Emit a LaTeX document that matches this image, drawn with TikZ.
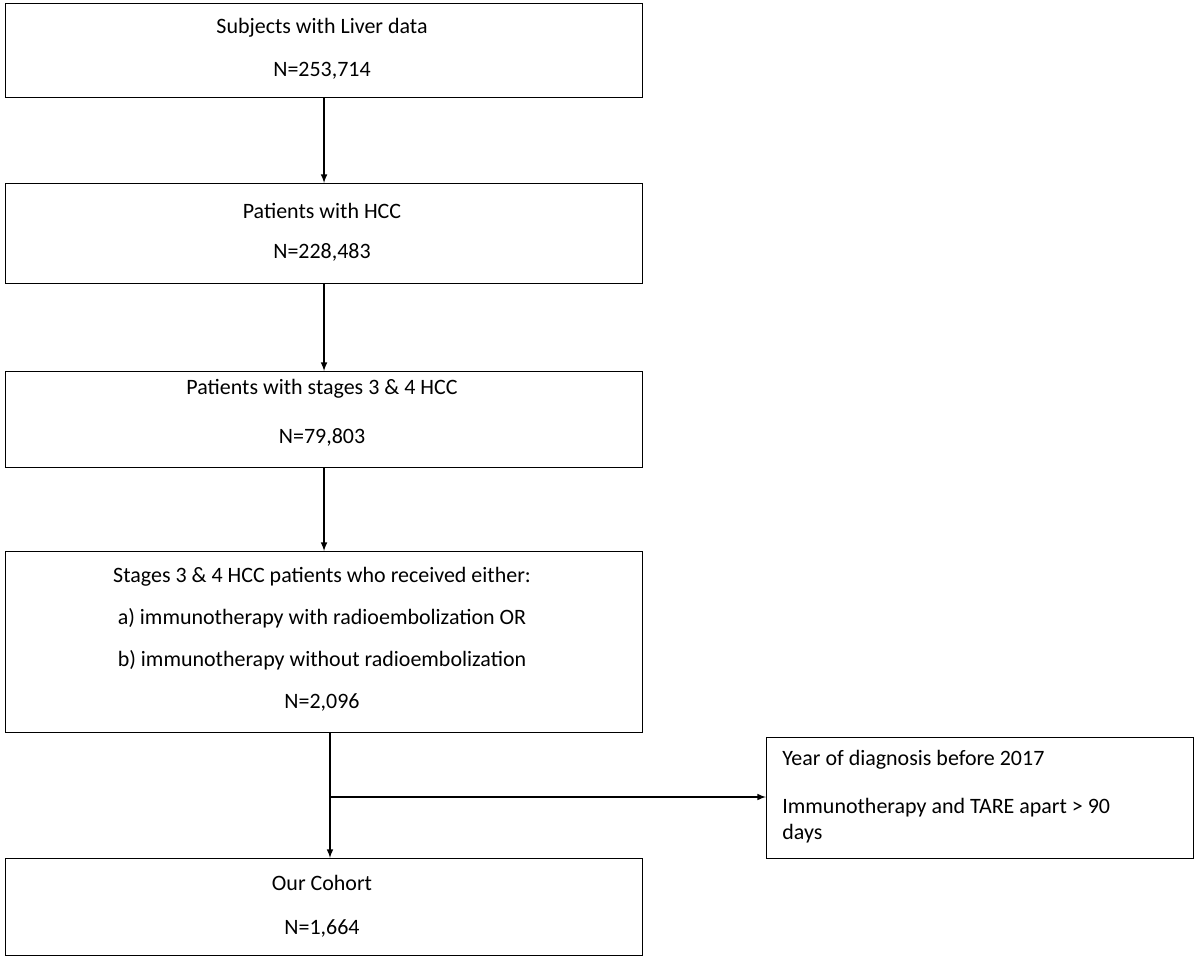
\documentclass[tikz,border=0pt]{standalone}
\usepackage{fontspec}
\setmainfont{Carlito}
\usetikzlibrary{positioning}
\tikzset{
  box/.style={draw=black, line width=0.7pt, minimum width=12.74cm, inner sep=0pt},
  txt/.style={font=\fontsize{12.5}{14}\selectfont, inner sep=0pt},
  flow/.style={-latex, line width=0.7pt}
}
\begin{document}
\begin{tikzpicture}[x=0.02cm, y=-0.02cm]
\useasboundingbox (0,0) rectangle (1200,959);
% main boxes
\node[box, minimum height=1.88cm, anchor=north west] (liver) at (5,3) {};
\node[box, minimum height=2.0cm, anchor=north west] (hcc) at (5,183) {};
\node[box, minimum height=1.92cm, anchor=north west] (stage) at (5,371) {};
\node[box, minimum height=3.62cm, anchor=north west] (treat) at (5,551) {};
\node[box, minimum height=1.94cm, anchor=north west] (cohort) at (5,858) {};
\node[box, minimum width=8.54cm, minimum height=2.42cm, anchor=north west] (excl) at (766,737) {};
% texts
\node[txt] at (322,28) {Subjects with Liver data};
\node[txt] at (322,71) {N=253,714};
\node[txt] at (322,211) {Patients with HCC};
\node[txt] at (322,252) {N=228,483};
\node[txt] at (322,389) {Patients with stages 3 \& 4 HCC};
\node[txt] at (322,437) {N=79,803};
\node[txt] at (322,577) {Stages 3 \& 4 HCC patients who received either:};
\node[txt] at (322,618) {a) immunotherapy with radioembolization OR};
\node[txt] at (322,660) {b) immunotherapy without radioembolization};
\node[txt] at (322,702) {N=2,096};
\node[txt] at (322,883) {Our Cohort};
\node[txt] at (322,928) {N=1,664};
\node[txt, anchor=west] at (782,760) {Year of diagnosis before 2017};
\node[txt, anchor=west] at (782,808) {Immunotherapy and TARE apart > 90};
\node[txt, anchor=west] at (782,834) {days};
% connectors
\coordinate (split) at (330,797);
\draw[flow] (liver.south) -- (hcc.north);
\draw[flow] (hcc.south) -- (stage.north);
\draw[flow] (stage.south) -- (treat.north);
\draw[flow] (330,732) -- (330,858);
\draw[flow] (split) -- (excl.west |- split);
\end{tikzpicture}
\end{document}
